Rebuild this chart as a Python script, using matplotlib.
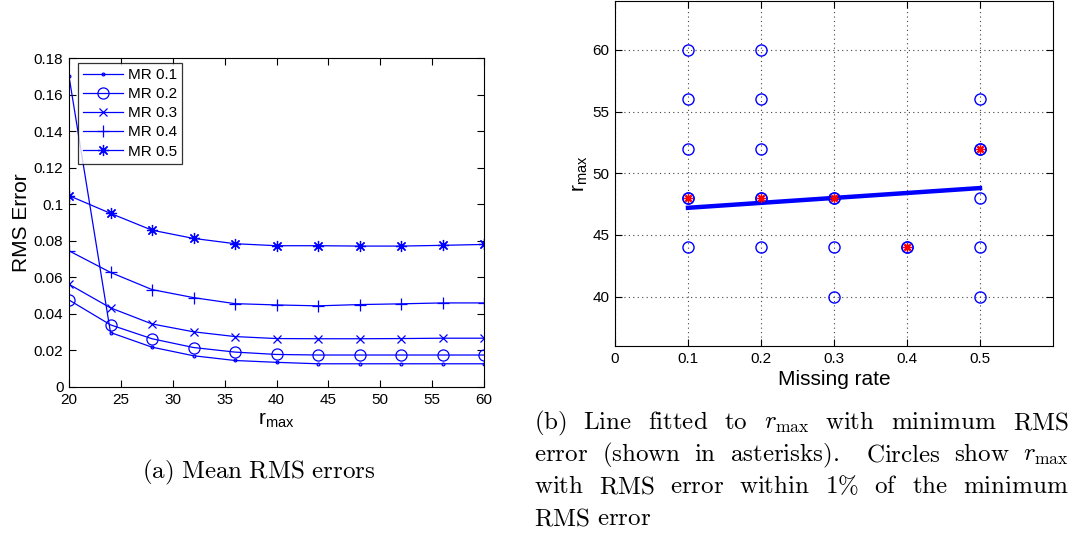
import numpy as np
import matplotlib.pyplot as plt
import matplotlib as mpl

mpl.rcParams['font.family'] = ['Liberation Sans', 'DejaVu Sans']

# (a) mean RMS error vs r_max for each missing rate
r_max = [20, 24, 28, 32, 36, 40, 44, 48, 52, 56, 60]
rms_mr01 = [0.170, 0.0298, 0.0218, 0.0171, 0.0145, 0.0135, 0.0127, 0.0127, 0.0127, 0.0127, 0.0127]
rms_mr02 = [0.0476, 0.0340, 0.0264, 0.0216, 0.0191, 0.0178, 0.0175, 0.0175, 0.0175, 0.0175, 0.0175]
rms_mr03 = [0.0562, 0.0433, 0.0345, 0.0302, 0.0276, 0.0265, 0.0264, 0.0264, 0.0265, 0.0267, 0.0267]
rms_mr04 = [0.0745, 0.0627, 0.0533, 0.0489, 0.0456, 0.0449, 0.0444, 0.0451, 0.0455, 0.0460, 0.0460]
rms_mr05 = [0.1047, 0.0950, 0.0858, 0.0813, 0.0784, 0.0773, 0.0773, 0.0771, 0.0771, 0.0775, 0.0780]
series_labels = ['MR 0.1', 'MR 0.2', 'MR 0.3', 'MR 0.4', 'MR 0.5']

# (b) r_max within 1% of min RMS (circles) and the minimum (asterisks)
circ_rate = [0.1, 0.1, 0.1, 0.1, 0.1, 0.2, 0.2, 0.2, 0.2, 0.2, 0.3, 0.3, 0.3, 0.4, 0.5, 0.5, 0.5, 0.5, 0.5]
circ_rmax = [44, 48, 52, 56, 60, 44, 48, 52, 56, 60, 40, 44, 48, 44, 40, 44, 48, 52, 56]
best_rate = [0.1, 0.2, 0.3, 0.4, 0.5]
best_rmax = [48, 48, 48, 44, 52]

caption_a = r'$\mathrm{(a)\ Mean\ RMS\ errors}$'
caption_b = [
    ['(b)', 'Line', 'fitted', 'to', r'r_{\mathrm{max}}', 'with', 'minimum', 'RMS'],
    ['error', '(shown', 'in', 'asterisks).', '', 'Circles', 'show', r'r_{\mathrm{max}}'],
    ['with', 'RMS', 'error', 'within', '1\\%', 'of', 'the', 'minimum'],
    ['RMS', 'error'],
]

W, H = 1083, 536
fig = plt.figure(figsize=(W / 100, H / 100), dpi=100)

# ---- left panel
ax1 = fig.add_axes([69 / W, 1 - 387 / H, (484 - 69) / W, (387 - 58) / H])
markers = ['.', 'o', 'x', '+', (8, 2, 0)]
msizes = [4, 8, 6, 9, 8]
for ys, m, ms, lab in zip([rms_mr01, rms_mr02, rms_mr03, rms_mr04, rms_mr05], markers, msizes, series_labels):
    ax1.plot(r_max, ys, color='#0000ff', lw=0.9, marker=m, ms=ms, mfc='none', mew=0.9, label=lab)
ax1.set_xlim(20, 60)
ax1.set_ylim(0, 0.18)
ax1.set_xticks(np.arange(20, 61, 5))
ax1.set_yticks(np.arange(0, 0.181, 0.02))
ax1.set_yticklabels(['0', '0.02', '0.04', '0.06', '0.08', '0.1', '0.12', '0.14', '0.16', '0.18'])
ax1.tick_params(direction='in', top=True, right=True, labelsize=11, length=5, pad=4)
ax1.set_ylabel('RMS Error', fontsize=15, labelpad=2)
ax1.set_xlabel(r'$\mathregular{r_{max}}$', fontsize=15, labelpad=3)
leg = ax1.legend(loc='upper left', bbox_to_anchor=(9 / 415, 1 - 5 / 329), fontsize=11, frameon=True,
                 fancybox=False, edgecolor='black', handlelength=2.6, borderpad=0.35,
                 labelspacing=0.33, handletextpad=0.3, borderaxespad=0)
leg.get_frame().set_linewidth(0.9)

# ---- right panel
ax2 = fig.add_axes([615 / W, 1 - 346 / H, (1053 - 615) / W, (346 - 0.5) / H])
coef = np.polyfit(best_rate, best_rmax, 1)
fit_x = np.array([min(best_rate), max(best_rate)])
ax2.plot(fit_x, np.polyval(coef, fit_x), color='#0000ff', lw=3.2, zorder=2)
ax2.plot(circ_rate, circ_rmax, ls='none', marker='o', ms=8, mfc='none', mec='#0000ff', mew=1.0, zorder=3)
ax2.plot(best_rate, best_rmax, ls='none', marker='o', ms=8, mfc='none', mec='#0000ff', mew=1.0, zorder=3)
ax2.plot(best_rate, best_rmax, ls='none', marker=(8, 2, 0), ms=6, mec='red', mew=1.0, zorder=4)
ax2.set_xlim(0, 0.6)
ax2.set_ylim(36, 64)
ax2.set_xticks([0, 0.1, 0.2, 0.3, 0.4, 0.5])
ax2.set_xticklabels(['0', '0.1', '0.2', '0.3', '0.4', '0.5'])
ax2.set_yticks([40, 45, 50, 55, 60])
ax2.grid(True, ls=(0, (1, 3)), color='#444444', lw=0.8)
ax2.tick_params(direction='in', top=True, right=True, labelsize=11, length=5, pad=4)
ax2.set_xlabel('Missing rate', fontsize=15, labelpad=3)
ax2.set_ylabel(r'$\mathregular{r_{max}}$', fontsize=15, labelpad=2)

# ---- captions (computer modern, right caption justified)
cap_fs = 18
fig.text(259 / W, 1 - 478 / H, caption_a, ha='center', va='baseline', fontsize=cap_fs, math_fontfamily='cm')

renderer = fig.canvas.get_renderer()
x_left, x_right = 534, 1069
for i, words in enumerate(caption_b):
    y = 1 - (429 + 32 * i) / H
    arts = []
    for w in words:
        if w == '':
            arts.append(None)
            continue
        s = '$' + (w if w.startswith('r_') else r'\mathrm{' + w + '}') + '$'
        arts.append(fig.text(0, y, s, ha='left', va='baseline', fontsize=cap_fs, math_fontfamily='cm'))
    widths = [0 if a is None else a.get_window_extent(renderer).width for a in arts]
    if i < len(caption_b) - 1:
        gap = (x_right - x_left - sum(widths)) / (len(arts) - 1)
    else:
        gap = 7
    x = x_left
    for a, wd in zip(arts, widths):
        if a is not None:
            a.set_x(x / W)
        x += wd + gap

fig.savefig('out.png', dpi=100)
